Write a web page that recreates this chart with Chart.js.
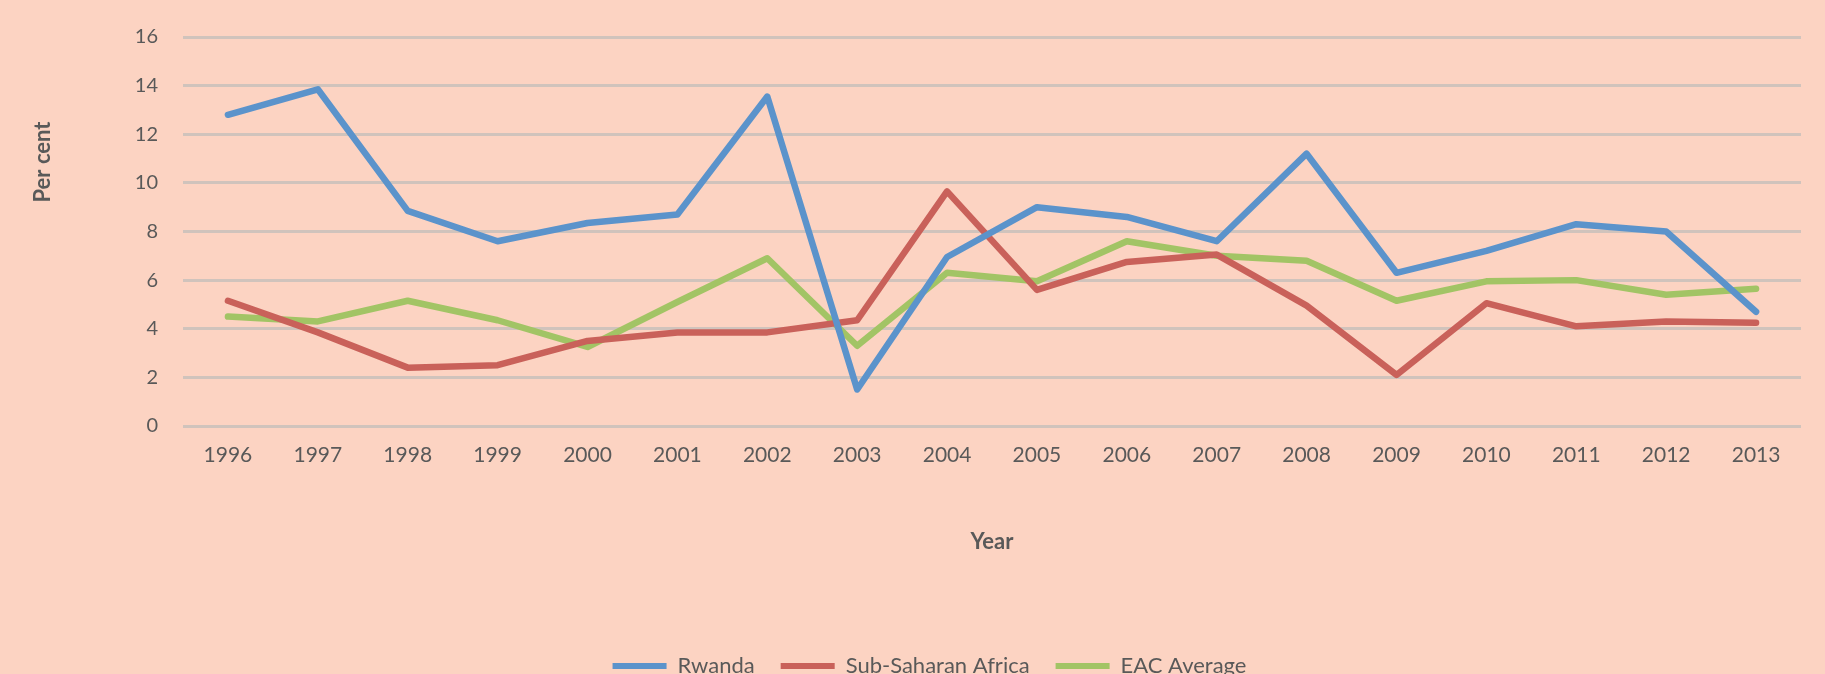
<!DOCTYPE html>
<html>
<head>
<meta charset="utf-8">
<title>Rwanda vs Sub-Saharan Africa vs EAC Average</title>
<script src="https://cdn.jsdelivr.net/npm/chart.js@4/dist/chart.umd.min.js"></script>
<style>
  html, body { margin: 0; padding: 0; background: #fcd3c2; overflow: hidden; }
  #wrap { position: relative; width: 1825px; height: 687px; }
</style>
</head>
<body>
<div id="wrap"><canvas id="growth-chart"></canvas></div>
<script>
// Chart data
const years = ["1996", "1997", "1998", "1999", "2000", "2001", "2002", "2003", "2004",
               "2005", "2006", "2007", "2008", "2009", "2010", "2011", "2012", "2013"];
const rwanda = [12.8, 13.85, 8.85, 7.6, 8.35, 8.7, 13.55, 1.5, 6.95,
                9.0, 8.6, 7.6, 11.2, 6.3, 7.2, 8.3, 8.0, 4.7];
const subSaharanAfrica = [5.15, 3.85, 2.4, 2.5, 3.5, 3.85, 3.85, 4.35, 9.65,
                          5.6, 6.75, 7.05, 4.95, 2.1, 5.05, 4.1, 4.3, 4.25];
const eacAverage = [4.5, 4.3, 5.15, 4.35, 3.25, 5.1, 6.9, 3.3, 6.3,
                    5.95, 7.6, 7.0, 6.8, 5.15, 5.95, 6.0, 5.4, 5.65];
const yTicks = [0, 2, 4, 6, 8, 10, 12, 14, 16];

const TEXT = "#595959";
const FONT = "Lato, 'Open Sans', sans-serif";

// Vertical "Per cent" label sits above the axis middle, like the original
const perCentLabel = {
  id: "perCentLabel",
  afterDraw(chart) {
    const ctx = chart.ctx;
    ctx.save();
    ctx.translate(43, 162);
    ctx.rotate(-Math.PI / 2);
    ctx.font = "bold 22px " + FONT;
    ctx.fillStyle = TEXT;
    ctx.textAlign = "center";
    ctx.textBaseline = "middle";
    ctx.fillText("Per cent", 0, 0);
    ctx.restore();
  }
};

function line(label, data, color) {
  return {
    label,
    data,
    borderColor: color,
    backgroundColor: color,
    borderWidth: 6.5,
    pointRadius: 0,
    tension: 0,
    borderJoinStyle: "round",
    borderCapStyle: "round",
  };
}

new Chart(document.getElementById("growth-chart"), {
  type: "line",
  data: {
    labels: years,
    datasets: [
      line("Rwanda", rwanda, "#5b93cb"),
      line("Sub-Saharan Africa", subSaharanAfrica, "#c9615a"),
      line("EAC Average", eacAverage, "#a2c465"),
    ],
  },
  options: {
    responsive: true,
    maintainAspectRatio: false,
    animation: false,
    // left padding only shifts the legend centre; y axis width is fixed below
    layout: { padding: { top: 36, left: 58, right: 24, bottom: 0 } },
    plugins: {
      tooltip: { enabled: false },
      legend: {
        position: "bottom",
        labels: {
          color: TEXT,
          font: { family: FONT, size: 22 },
          boxWidth: 54,
          boxHeight: 6,
          padding: 26,
          generateLabels(chart) {
            return chart.data.datasets.map((ds, i) => ({
              text: ds.label,
              fillStyle: ds.borderColor,
              strokeStyle: ds.borderColor,
              lineWidth: 0,
              fontColor: TEXT,
              datasetIndex: i,
            }));
          },
        },
      },
    },
    scales: {
      x: {
        offset: true,
        afterFit(scale) { scale.height = 203; },
        grid: { display: false, drawTicks: false },
        border: { display: false },
        ticks: { color: TEXT, font: { family: FONT, size: 21 }, padding: 17, maxRotation: 0 },
        title: {
          display: true,
          text: "Year",
          color: TEXT,
          font: { family: FONT, size: 22, weight: "bold" },
          padding: { top: 0, bottom: 74 },
        },
      },
      y: {
        min: 0,
        max: 16,
        afterFit(scale) { scale.width = 125; },
        afterBuildTicks(scale) { scale.ticks = yTicks.map(v => ({ value: v })); },
        grid: { color: "#d0c3bc", lineWidth: 3, drawTicks: false },
        border: { display: false },
        ticks: { color: TEXT, font: { family: FONT, size: 20 }, padding: 25 },
      },
    },
  },
  plugins: [perCentLabel],
});
</script>
</body>
</html>
